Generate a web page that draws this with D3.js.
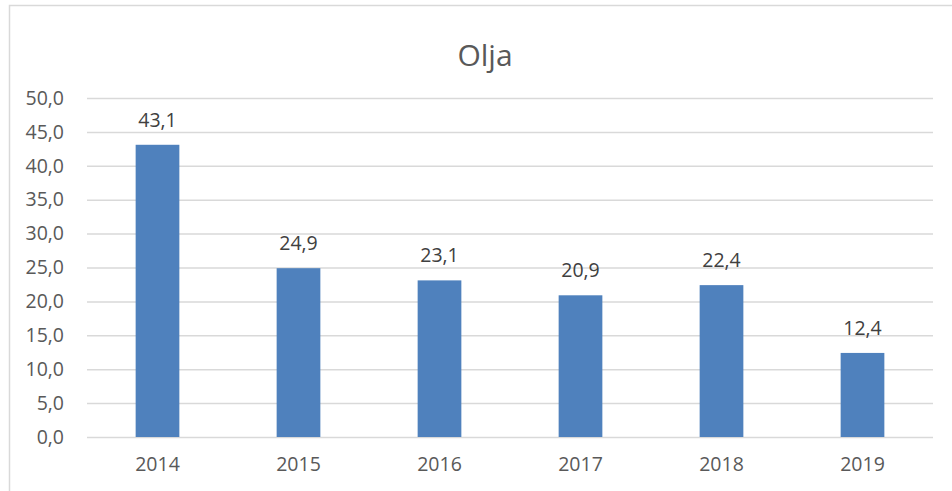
<!DOCTYPE html>
<html>
<head>
<meta charset="utf-8">
<script src="https://cdn.jsdelivr.net/npm/d3@7"></script>
<style>
    body { margin: 0; background: #fff; }
    text { font-family: "Open Sans", "Noto Sans", sans-serif; }
</style>
</head>
<body>
<svg class="OilChart" width="952" height="491"></svg>
<script>
const years = ["2014", "2015", "2016", "2017", "2018", "2019"];
const values = [43.1, 24.9, 23.1, 20.9, 22.4, 12.4];
const yTicks = [0, 5, 10, 15, 20, 25, 30, 35, 40, 45, 50];
const title = "Olja";

function fmt(v)
{
    return v.toFixed(1).replace('.', ',');
}

function render()
{
    const margin = { 'top' : 98, 'left' : 87, 'right' : 19, 'bottom' : 54 };
    const width = 952 - margin.left - margin.right;
    const height = 491 - margin.top - margin.bottom;
    const svg = d3.select('.OilChart');

    // outer chart border
    svg.append('rect')
        .attr('x', 9.5)
        .attr('y', 5.5)
        .attr('width', 960)
        .attr('height', 500)
        .attr('fill', 'none')
        .attr('stroke', '#d9d9d9')
        .attr('stroke-width', 1.5);

    svg.append('text')
        .attr('x', 485)
        .attr('y', 66)
        .attr('text-anchor', 'middle')
        .attr('fill', '#595959')
        .style('font-size', '30px')
        .text(title);

    const chart = svg.append('g')
        .attr('transform', `translate(${margin.left}, ${margin.top})`);

    const xScale = d3.scaleBand()
        .range([0, width])
        .domain(years)
        .paddingInner(0.69)
        .paddingOuter(0.345);

    const yScale = d3.scaleLinear()
        .range([height, 0])
        .domain([0, 50]);

    const yAxis = chart.append('g')
        .call(d3.axisLeft(yScale)
            .tickValues(yTicks)
            .tickSize(-width)
            .tickPadding(23)
            .tickFormat(fmt)
        );
    yAxis.select('.domain').remove();
    yAxis.selectAll('line')
        .attr('stroke', '#d9d9d9')
        .attr('stroke-width', 1.5);
    yAxis.selectAll('text')
        .attr('fill', '#595959')
        .style('font-size', '19.5px');

    const xAxis = chart.append('g')
        .attr('transform', `translate(0, ${height})`)
        .call(d3.axisBottom(xScale).tickSize(0).tickPadding(20));
    xAxis.select('.domain').remove();
    xAxis.selectAll('text')
        .attr('fill', '#595959')
        .style('font-size', '19.5px');

    chart.selectAll('.bar')
        .data(values)
        .enter()
        .append('rect')
        .attr('class', 'bar')
        .attr('x', (d, i) => xScale(years[i]))
        .attr('y', d => yScale(d))
        .attr('width', xScale.bandwidth())
        .attr('height', d => height - yScale(d))
        .attr('fill', '#4f81bd');

    chart.selectAll('.lbl')
        .data(values)
        .enter()
        .append('text')
        .attr('class', 'lbl')
        .attr('x', (d, i) => xScale(years[i]) + xScale.bandwidth() / 2)
        .attr('y', d => yScale(d) - 18)
        .attr('text-anchor', 'middle')
        .attr('fill', '#404040')
        .style('font-size', '19.5px')
        .text(fmt);
}

render();
</script>
</body>
</html>
